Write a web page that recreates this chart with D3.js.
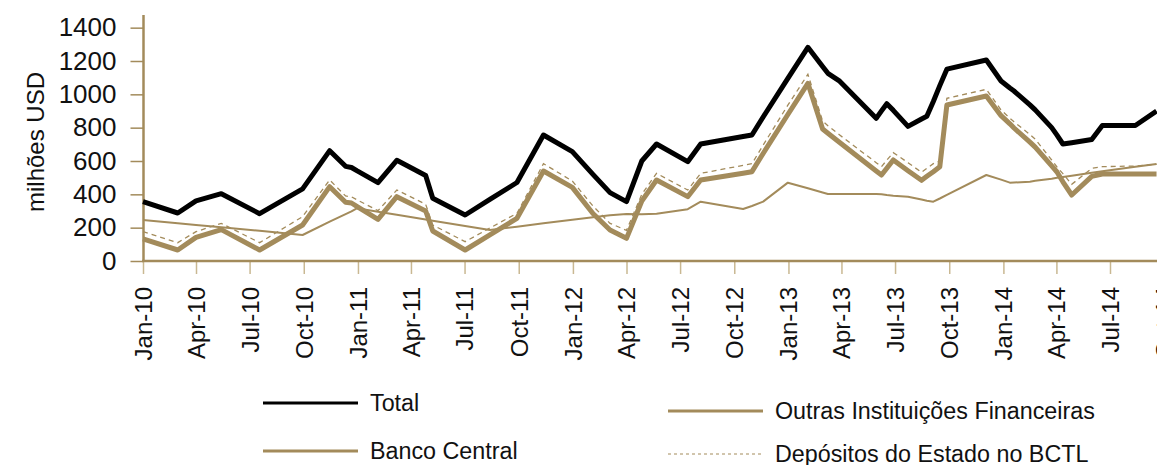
<!DOCTYPE html>
<html>
<head>
<meta charset="utf-8">
<script src="https://cdn.jsdelivr.net/npm/d3@7"></script>
<style>
  body { margin: 0; background: #fff; }
  text { font-family: "Liberation Sans", Arial, sans-serif; fill: #111; }
</style>
</head>
<body>
<svg id="chart" width="1157" height="465"></svg>
<script>
// Observation dates (irregular, roughly monthly)
const dates = ["2010-01-01","2010-03-01","2010-04-01","2010-05-14","2010-07-18","2010-09-29","2010-11-14","2010-12-11","2010-12-21","2010-12-30",
  "2011-02-04","2011-03-08","2011-04-26","2011-05-08","2011-07-02","2011-08-13","2011-09-28","2011-11-12","2011-12-31","2012-02-04",
  "2012-03-04","2012-04-01","2012-04-27","2012-05-22","2012-07-14","2012-08-05","2012-10-16","2012-10-31","2012-11-19","2012-12-31",
  "2013-02-03","2013-02-28","2013-03-09","2013-03-29","2013-05-30","2013-06-08","2013-06-17","2013-06-28","2013-07-23","2013-08-15",
  "2013-08-24","2013-09-04","2013-09-15","2013-09-27","2013-12-03","2013-12-28","2014-01-12","2014-01-19","2014-02-15","2014-02-24",
  "2014-03-24","2014-04-02","2014-04-12","2014-04-27","2014-05-31","2014-06-18","2014-08-13","2014-09-18"];

// Values in millions of USD
const total = [356,288,361,404,284,433,662,568,561,542, 470,604,513,376,276,370,471,756,656,520,
  410,356,600,702,596,702,747,756,864,1096, 1282,1167,1126,1079,856,901,944,904,808,852,
  868,957,1052,1151,1206,1080,1038,1020,937,907, 800,755,702,710,729,813,813,899];
const bancoCentral = [133,66,142,188,66,216,446,353,348,328, 250,386,300,180,66,157,256,540,442,285,
  186,136,360,486,386,486,527,536,645,879, 1066,792,767,711,540,516,557,606,542,484,
  508,536,566,936,990,872,823,798,713,683, 571,534,475,396,508,522,522,522];
const outrasInstituicoes = [246,226,216,202,181,156,236,281,298,316, 295,277,249,242,210,186,206,226,247,262,
  275,282,281,284,311,356,312,330,356,470, 436,411,402,402,402,400,396,392,385,369,
  362,356,375,397,516,488,470,471,476,481, 494,499,504,511,529,538,565,582];
const depositosEstado = [176,110,176,226,110,266,486,390,385,368, 302,426,340,216,116,198,286,584,480,330,
  226,184,400,526,426,526,574,584,695,935, 1120,840,812,756,590,566,605,650,590,532,
  556,584,600,976,1030,906,857,835,759,731, 606,564,524,460,556,566,570,580];

const yTicks = [0, 200, 400, 600, 800, 1000, 1200, 1400];
const xTickStart = "2010-01-01", xTickEnd = "2014-11-01";
const seriesNames = ["Total", "Banco Central", "Outras Instituições Financeiras", "Depósitos do Estado no BCTL"];

const GOLD = "#a38b5b";
const svg = d3.select("#chart");
const parse = d3.utcParse("%Y-%m-%d");
const dt = dates.map(parse);

const x = d3.scaleUtc()
  .domain([parse("2010-01-01"), parse("2014-07-01")])
  .range([143, 1110]);
const y = d3.scaleLinear().domain([0, 1200]).range([261, 61]);

// Axes
const yAxis = d3.axisLeft(y).tickValues(yTicks).tickSize(13).tickPadding(14).tickFormat(d3.format("d"));
const gy = svg.append("g").attr("transform", "translate(143.5,0)").call(yAxis);
gy.select(".domain").remove();
gy.selectAll(".tick line").attr("stroke", GOLD).attr("stroke-width", 1.5);
gy.selectAll(".tick text").style("font-size", "26px").attr("fill", "#111");

const xTicks = d3.utcMonth.every(3).range(parse(xTickStart), parse(xTickEnd));
const xAxis = d3.axisBottom(x).tickValues(xTicks).tickSize(13).tickFormat(d3.utcFormat("%b-%y"));
const gx = svg.append("g").attr("transform", "translate(0,261)").call(xAxis);
gx.select(".domain").remove();
gx.selectAll(".tick line").attr("stroke", "#c9b892").attr("stroke-width", 1.5);
gx.selectAll(".tick text")
  .style("font-size", "24px").attr("fill", "#111")
  .attr("text-anchor", "end")
  .attr("transform", "rotate(-90)")
  .attr("x", -26).attr("y", 0).attr("dy", "0.35em");

// Axis lines
svg.append("line").attr("x1", 143.5).attr("x2", 143.5).attr("y1", 15).attr("y2", 262)
  .attr("stroke", GOLD).attr("stroke-width", 2.5);
svg.append("line").attr("x1", 142).attr("x2", 1157).attr("y1", 261).attr("y2", 261)
  .attr("stroke", GOLD).attr("stroke-width", 2.5);

// Y axis title
svg.append("text").attr("transform", "translate(44,142) rotate(-90)")
  .attr("text-anchor", "middle").style("font-size", "24px").text("milhões USD");

// Series lines
const line = vals => d3.line().x((d, i) => x(dt[i])).y(d => y(d))(vals);
const plot = svg.append("g");
plot.append("path").attr("d", line(outrasInstituicoes)).attr("fill", "none")
  .attr("stroke", GOLD).attr("stroke-width", 2).attr("stroke-linejoin", "round");
plot.append("path").attr("d", line(depositosEstado)).attr("fill", "none")
  .attr("stroke", GOLD).attr("stroke-width", 1.3).attr("stroke-dasharray", "5,4");
plot.append("path").attr("d", line(bancoCentral)).attr("fill", "none")
  .attr("stroke", GOLD).attr("stroke-width", 5).attr("stroke-linejoin", "round");
plot.append("path").attr("d", line(total)).attr("fill", "none")
  .attr("stroke", "#000").attr("stroke-width", 5).attr("stroke-linejoin", "round");

// Legend
const legend = [
  { name: seriesNames[0], x: 263, y: 403, color: "#000", w: 3, dash: null },
  { name: seriesNames[2], x: 668, y: 411, color: GOLD, w: 3, dash: null },
  { name: seriesNames[1], x: 263, y: 451, color: GOLD, w: 3, dash: null },
  { name: seriesNames[3], x: 668, y: 454, color: GOLD, w: 1, dash: "3,3" }
];
const lg = svg.append("g").selectAll("g").data(legend).join("g")
  .attr("transform", d => `translate(${d.x},${d.y})`);
lg.append("line").attr("x1", 0).attr("x2", 95).attr("y1", 0).attr("y2", 0)
  .attr("stroke", d => d.color).attr("stroke-width", d => d.w)
  .attr("stroke-dasharray", d => d.dash);
lg.append("text").attr("x", 107).attr("y", 0).attr("dy", "0.36em")
  .style("font-size", "23.3px").text(d => d.name);
</script>
</body>
</html>
